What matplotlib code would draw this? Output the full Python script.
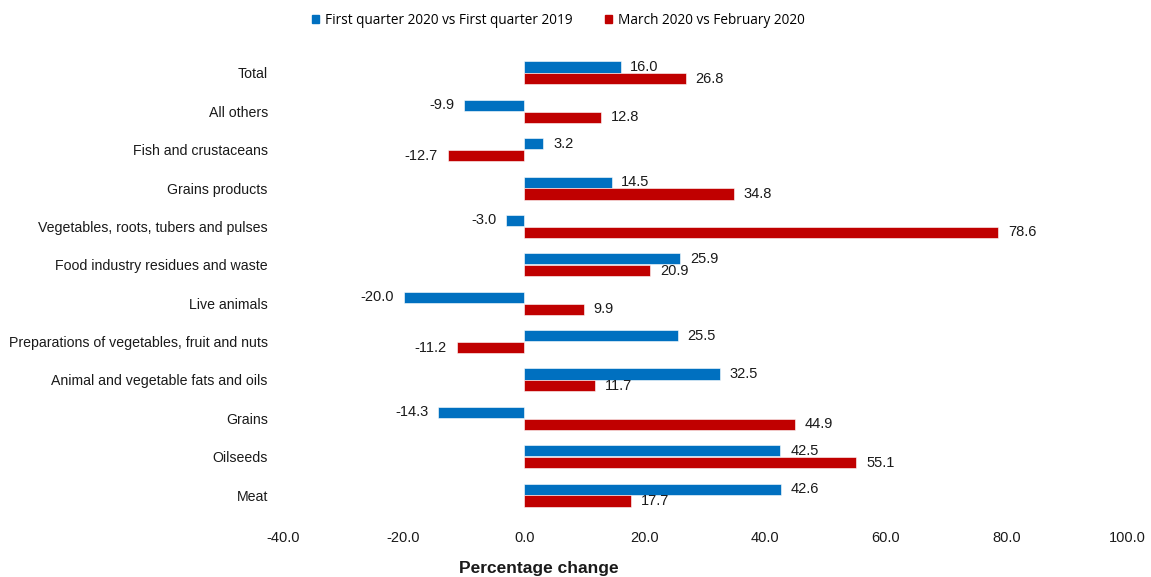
import matplotlib
matplotlib.use("Agg")
import matplotlib.pyplot as plt
from matplotlib.patches import Patch
import numpy as np

# Categories, top to bottom as in the chart.
categories = [
    "Total",
    "All others",
    "Fish and crustaceans",
    "Grains products",
    "Vegetables, roots, tubers and pulses",
    "Food industry residues and waste",
    "Live animals",
    "Preparations of vegetables, fruit and nuts",
    "Animal and vegetable fats and oils",
    "Grains",
    "Oilseeds",
    "Meat",
]

# Percentage changes.
q1_vs_q1 = [16.0, -9.9, 3.2, 14.5, -3.0, 25.9, -20.0, 25.5, 32.5, -14.3, 42.5, 42.6]
mar_vs_feb = [26.8, 12.8, -12.7, 34.8, 78.6, 20.9, 9.9, -11.2, 11.7, 44.9, 55.1, 17.7]

series_names = ["First quarter 2020 vs First quarter 2019", "March 2020 vs February 2020"]

blue = "#0070C0"
red = "#C00000"

plt.rcParams["font.family"] = ["Liberation Sans", "DejaVu Sans"]

fig = plt.figure(figsize=(11.51, 5.77), dpi=100)
ax = fig.add_axes([0.2459, 0.1088, 0.7333, 0.798])

y = np.arange(len(categories))
h = 0.29
off = 0.155

ax.barh(y - off, q1_vs_q1, height=h, color=blue, edgecolor="white", linewidth=0.4)
ax.barh(y + off, mar_vs_feb, height=h, color=red, edgecolor="white", linewidth=0.4)

# Value labels beside each bar end.
for values, shift in [(q1_vs_q1, -off), (mar_vs_feb, off)]:
    for i, v in enumerate(values):
        if v >= 0:
            ax.annotate(f"{v:.1f}", (v, i + shift), xytext=(7, 0), textcoords="offset points",
                        ha="left", va="center", fontsize=10.5, color="#1a1a1a")
        else:
            ax.annotate(f"{v:.1f}", (v, i + shift), xytext=(-7, 0), textcoords="offset points",
                        ha="right", va="center", fontsize=10.5, color="#1a1a1a")

ax.set_xlim(-40, 100)
ax.set_ylim(len(categories) - 0.5, -0.5)
ax.set_xticks(np.arange(-40, 101, 20))
ax.set_xticklabels([f"{t:.1f}" for t in np.arange(-40, 101, 20)])
ax.set_yticks(y)
ax.set_yticklabels(categories)
ax.tick_params(axis="both", length=0, labelsize=10.5, colors="#1a1a1a")
ax.tick_params(axis="y", labelsize=10.2)
ax.tick_params(axis="x", pad=12)
ax.tick_params(axis="y", pad=11)
for s in ax.spines.values():
    s.set_visible(False)

# Axis title sits at the very bottom edge, as in the original.
fig.text(0.468, 4 / 577, "Percentage change", ha="center", va="baseline",
         fontsize=12.5, fontweight="bold", color="#1a1a1a")

handles = [Patch(color=blue), Patch(color=red)]
fig.legend(handles, series_names, loc="center", bbox_to_anchor=(0.485, 0.965), ncol=2,
           frameon=False, handlelength=0.55, handleheight=0.55, handletextpad=0.4,
           columnspacing=2.4, prop={"family": "Open Sans", "size": 9.8})

fig.savefig("out.png", dpi=100)
